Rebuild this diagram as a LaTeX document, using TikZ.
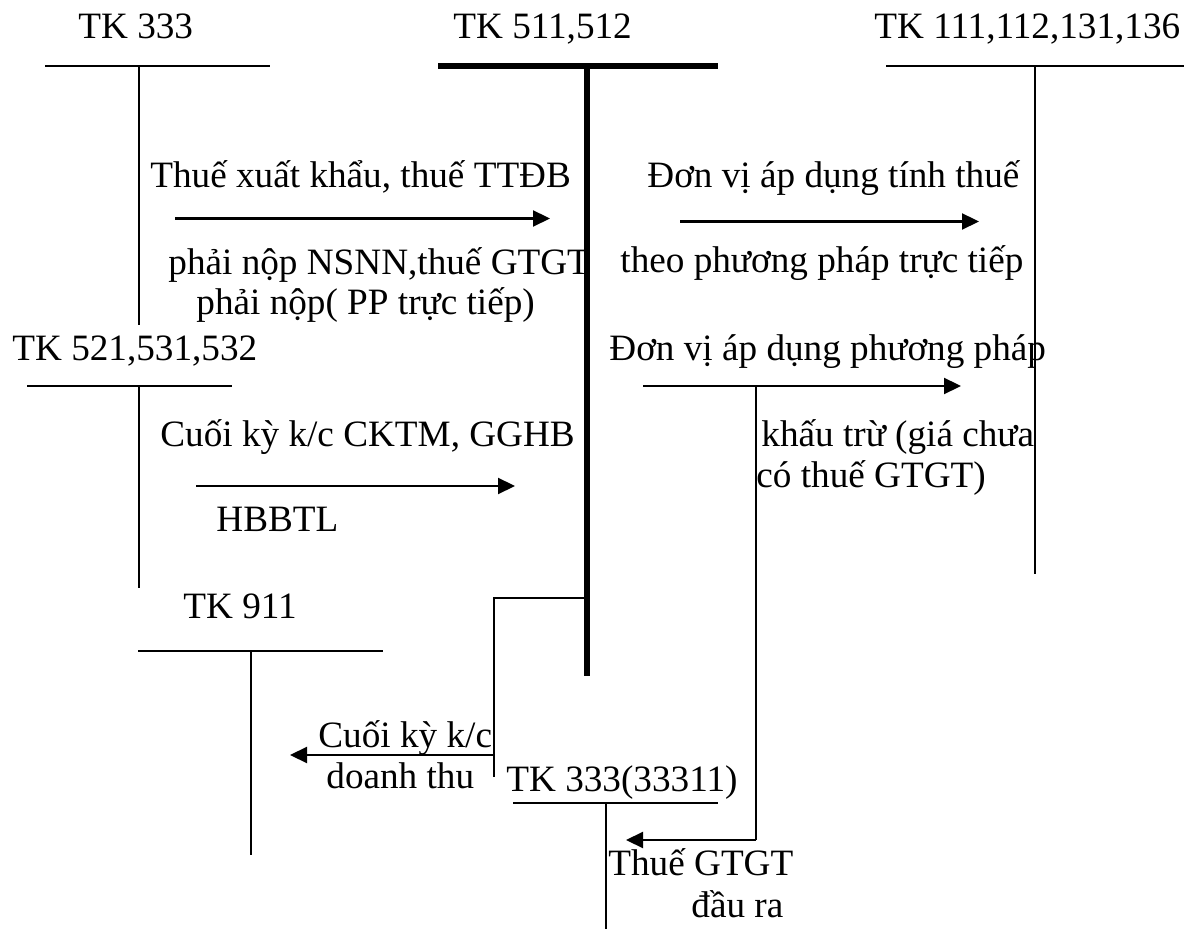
\documentclass[tikz,border=0pt]{standalone}
\usepackage{fontspec}
\setmainfont{Liberation Serif}
\usetikzlibrary{arrows.meta}
\begin{document}
\begin{tikzpicture}[x=0.5pt,y=-0.5pt,
  lbl/.style={anchor=base west,inner sep=0pt,font=\fontsize{18.6}{20}\selectfont},
  acct/.style={line width=0.7pt},
  mainacct/.style={line width=3pt},
  flow/.style={line width=1.1pt,-{Triangle[length=8.5pt,width=8pt]}},
  link/.style={line width=0.7pt}]
\useasboundingbox (0,0) rectangle (1193,929);

% labels
\node[lbl] (t333) at (78,39) {TK 333};
\node[lbl] (t511) at (453,39) {TK 511,512};
\node[lbl] (t111) at (874,39) {TK 111,112,131,136};
\node[lbl] (l1a) at (150,188) {Thuế xuất khẩu, thuế TTĐB};
\node[lbl] (l1b) at (168,275) {phải nộp NSNN,thuế GTGT};
\node[lbl] (l1c) at (196,315) {phải nộp( PP trực tiếp)};
\node[lbl] (l2a) at (647,188) {Đơn vị áp dụng tính thuế};
\node[lbl] (l2b) at (620,273) {theo phương pháp trực tiếp};
\node[lbl] (t521) at (12,361) {TK 521,531,532};
\node[lbl] (l3a) at (160,447) {Cuối kỳ k/c CKTM, GGHB};
\node[lbl] (l3b) at (216,532) {HBBTL};
\node[lbl] (l4a) at (609,361) {Đơn vị áp dụng phương pháp};
\node[lbl] (l4b) at (761,447) {khấu trừ (giá chưa};
\node[lbl] (l4c) at (756,488) {có thuế GTGT)};
\node[lbl] (t911) at (183,618) {TK 911};
\node[lbl] (l5a) at (318,747) {Cuối kỳ k/c};
\node[lbl] (l5b) at (326,788) {doanh thu};
\node[lbl] (t3331) at (506,791) {TK 333(33311)};
\node[lbl] (l6a) at (608,875) {Thuế GTGT};
\node[lbl] (l6b) at (691,917) {đầu ra};

% T-accounts
\draw[acct] (45,66) -- (270,66) (139,66) -- (139,325);
\draw[mainacct] (438,66) -- (718,66) (587,66) -- (587,676);
\draw[acct] (886,66) -- (1184,66) (1035,66) -- (1035,574);
\draw[acct] (27,386) -- (232,386) (139,386) -- (139,588);
\draw[acct] (138,651) -- (383,651) (251,651) -- (251,855);
\draw[acct] (513,803) -- (718,803) (606,803) -- (606,929);

% flow coordinates
\coordinate (a1s) at (175,218.5); \coordinate (a1e) at (550,218.5);
\coordinate (a2s) at (680,221.5); \coordinate (a2e) at (979,221.5);
\coordinate (a3s) at (196,486);   \coordinate (a3e) at (515,486);
\coordinate (a4s) at (643,386);   \coordinate (a4e) at (961,386);
\coordinate (b1)  at (587,598);   \coordinate (b2) at (494,598);
\coordinate (b3)  at (494,777);   \coordinate (b4) at (494,755);
\coordinate (b5)  at (290,755);
\coordinate (c1)  at (756,386);   \coordinate (c2) at (756,840);
\coordinate (c3)  at (626,840);

% flows
\draw[flow] (a1s) -- (a1e);
\draw[flow] (a2s) -- (a2e);
\draw[flow] (a3s) -- (a3e);
\draw[flow] (a4s) -- (a4e);
\draw[link] (b1) -- (b2) -- (b3);
\draw[flow] (b4) -- (b5);
\draw[link] (c1) -- (c2);
\draw[flow] (c2) -- (c3);
\end{tikzpicture}
\end{document}
